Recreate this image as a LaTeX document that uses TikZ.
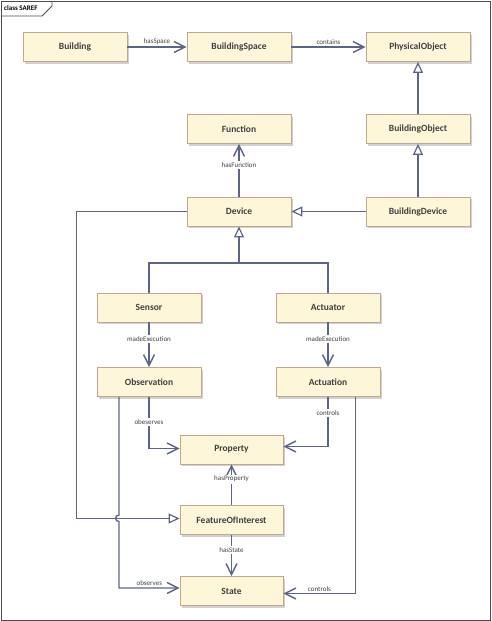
\documentclass[tikz,border=0pt]{standalone}
\usepackage{fontspec}
\setmainfont{Carlito}
\usetikzlibrary{arrows.meta,shadows}
\definecolor{boxfill}{HTML}{FEF6D8}
\definecolor{boxline}{HTML}{BFA88E}
\definecolor{conn}{HTML}{5C6588}
\definecolor{txt}{HTML}{404040}
\tikzset{
  umlbox/.style={draw=boxline, fill=boxfill, line width=0.8pt, minimum width=104pt, minimum height=29pt, inner sep=0pt,
     font=\fontsize{9.5}{11}\selectfont\bfseries, text=txt,
     drop shadow={shadow xshift=2pt, shadow yshift=-2pt, fill=black!18, opacity=1}},
  assoc/.style={draw=conn, line width=1.4pt, -{Straight Barb[length=11pt,width=11pt,line width=1.4pt]}},
  gen/.style={draw=conn, line width=1.4pt, -{Triangle[open,length=11pt,width=10pt,line width=1.2pt,fill=white]}},
  plain/.style={draw=conn, line width=1.4pt},
  lbl/.style={font=\fontsize{7}{8}\selectfont, text=txt, inner sep=1pt},
  onl/.style={lbl, fill=white, inner sep=1.5pt}
}
\begin{document}
\begin{tikzpicture}[x=1pt,y=-1pt]
\useasboundingbox (0,0) rectangle (492,621);
\draw[draw=black!70, line width=1pt] (1,1) rectangle (490,620);
\draw[draw=black!70, line width=0.8pt] (1,16) -- (42,16) -- (52,6) -- (52,1);
\node[anchor=west, font=\fontsize{7}{8}\selectfont\bfseries, text=black, inner sep=0pt] (title) at (4,8.5) {class SAREF};

\node[umlbox] (building) at (75,47) {Building};
\node[umlbox] (bspace) at (239,47) {BuildingSpace};
\node[umlbox] (pobject) at (418,47) {PhysicalObject};
\node[umlbox] (function) at (239,129) {Function};
\node[umlbox] (bobject) at (418,129) {BuildingObject};
\node[umlbox] (device) at (239,211.5) {Device};
\node[umlbox] (bdevice) at (418,211.5) {BuildingDevice};
\node[umlbox] (sensor) at (149,307.5) {Sensor};
\node[umlbox] (actuator) at (328,307.5) {Actuator};
\node[umlbox] (observation) at (149,382) {Observation};
\node[umlbox] (actuation) at (328,382) {Actuation};
\node[umlbox, minimum width=103pt] (property) at (231.5,449.5) {Property};
\node[umlbox, minimum width=103pt] (foi) at (231.5,520) {FeatureOfInterest};
\node[umlbox, minimum width=103pt] (state) at (231.5,591) {State};

\draw[assoc] (building) -- node[lbl, above=0.5pt] {hasSpace} (bspace);
\draw[assoc] (bspace) -- node[lbl, above=0.5pt] {contains} (pobject);
\draw[gen] (bobject) -- (pobject);
\draw[gen] (bdevice) -- (bobject);
\draw[gen] (bdevice) -- (device);
\draw[assoc] (device) -- node[onl, pos=0.6] {hasFunction} (function);

\coordinate (j) at (239,263);
\draw[plain] (sensor.north) |- (j) -| (actuator.north);
\draw[gen] (j) -- (device.south);

\draw[assoc] (sensor) -- node[onl, pos=0.38] {madeExecution} (observation);
\draw[assoc] (actuator) -- node[onl, pos=0.38] {madeExecution} (actuation);

\draw[assoc] (observation.south) |- node[onl, pos=0.24] {obeserves} ([yshift=1pt]property.west);
\draw[assoc] (actuation.south) |- node[onl, pos=0.16] {controls} ([yshift=3pt]property.east);
\draw[assoc] (foi) -- node[onl, pos=0.64] {hasProperty} (property);
\draw[gen] (device.west) -- ++(-110,0) |- ([yshift=1.5pt]foi.west);
\draw[assoc] (foi) -- node[onl, pos=0.37] {hasState} (state);

\draw[assoc] ([xshift=-30pt]observation.south) -- (119,515) .. controls (114.5,515) and (114.5,521.5) .. (119,521.5)
   |- node[lbl, pos=0.75, above=0.5pt] {observes} ([yshift=3pt]state.west);
\draw[assoc] ([xshift=27.5pt]actuation.south) |- node[lbl, pos=0.75, above=0.5pt] {controls} ([yshift=-2.5pt]state.east);
\end{tikzpicture}
\end{document}
